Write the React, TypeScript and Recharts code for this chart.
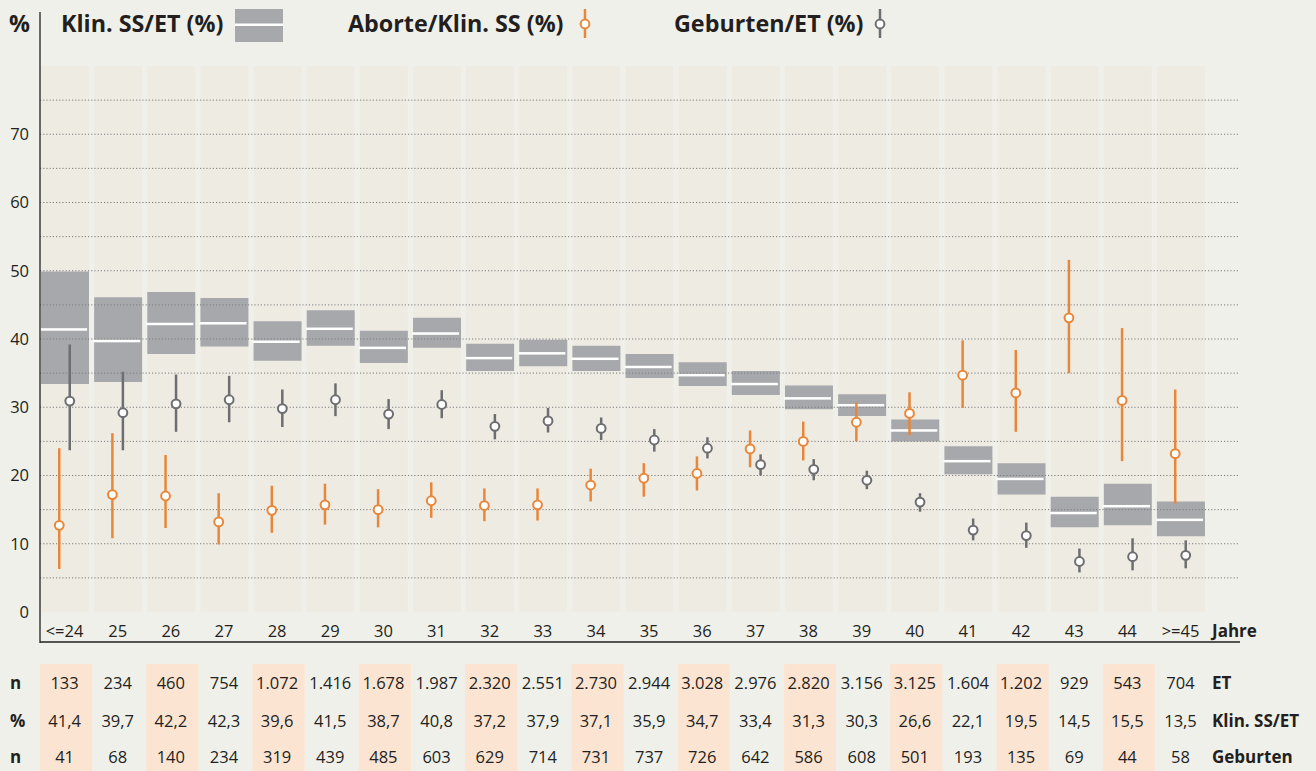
import React from 'react';
import { ComposedChart, Bar, Scatter, XAxis, YAxis, ReferenceLine } from 'recharts';

// ---- Data ----
const categories = ['<=24', '25', '26', '27', '28', '29', '30', '31', '32', '33', '34', '35', '36', '37', '38', '39', '40', '41', '42', '43', '44', '>=45'];

const klinMean = [41.4, 39.7, 42.2, 42.3, 39.6, 41.5, 38.7, 40.8, 37.2, 37.9, 37.1, 35.9, 34.7, 33.4, 31.3, 30.3, 26.6, 22.1, 19.5, 14.5, 15.5, 13.5];
const klinLow = [33.4, 33.7, 37.8, 38.9, 36.8, 39.0, 36.5, 38.7, 35.3, 36.0, 35.3, 34.3, 33.1, 31.8, 29.7, 28.7, 25.0, 20.2, 17.2, 12.4, 12.7, 11.1];
const klinHigh = [49.9, 46.1, 46.9, 46.0, 42.6, 44.2, 41.2, 43.1, 39.3, 39.9, 39.0, 37.8, 36.6, 35.3, 33.2, 31.9, 28.2, 24.3, 21.8, 16.9, 18.8, 16.2];

const abortMean = [12.7, 17.2, 17.0, 13.2, 14.9, 15.7, 15.0, 16.3, 15.6, 15.7, 18.6, 19.6, 20.3, 23.9, 25.0, 27.8, 29.1, 34.7, 32.1, 43.1, 31.0, 23.2];
const abortLow = [6.3, 10.8, 12.3, 9.9, 11.6, 12.8, 12.4, 13.8, 13.3, 13.4, 16.2, 16.9, 17.8, 21.2, 22.2, 25.0, 25.9, 29.9, 26.4, 35.0, 22.1, 15.9];
const abortHigh = [24.0, 26.2, 23.0, 17.4, 18.5, 18.8, 18.0, 19.0, 18.1, 18.1, 21.0, 21.8, 22.8, 26.6, 27.9, 30.7, 32.2, 39.8, 38.4, 51.6, 41.6, 32.6];

const birthMean = [30.9, 29.2, 30.5, 31.1, 29.8, 31.1, 29.0, 30.4, 27.2, 28.0, 26.9, 25.2, 24.0, 21.6, 20.9, 19.3, 16.1, 12.0, 11.2, 7.4, 8.1, 8.3];
const birthLow = [23.7, 23.7, 26.4, 27.8, 27.1, 28.7, 26.8, 28.4, 25.3, 26.3, 25.2, 23.5, 22.5, 20.0, 19.3, 18.0, 14.7, 10.5, 9.4, 5.8, 6.1, 6.4];
const birthHigh = [39.2, 35.2, 34.8, 34.6, 32.6, 33.5, 31.2, 32.5, 29.0, 29.9, 28.5, 26.8, 25.6, 23.1, 22.4, 20.7, 17.4, 13.7, 13.1, 9.3, 10.8, 10.5];

const nET = ['133', '234', '460', '754', '1.072', '1.416', '1.678', '1.987', '2.320', '2.551', '2.730', '2.944', '3.028', '2.976', '2.820', '3.156', '3.125', '1.604', '1.202', '929', '543', '704'];
const pctKlin = ['41,4', '39,7', '42,2', '42,3', '39,6', '41,5', '38,7', '40,8', '37,2', '37,9', '37,1', '35,9', '34,7', '33,4', '31,3', '30,3', '26,6', '22,1', '19,5', '14,5', '15,5', '13,5'];
const nBirth = ['41', '68', '140', '234', '319', '439', '485', '603', '629', '714', '731', '737', '726', '642', '586', '608', '501', '193', '135', '69', '44', '58'];

const yTicks = [0, 10, 20, 30, 40, 50, 60, 70];
const gridValues = [5, 10, 15, 20, 25, 30, 35, 40, 45, 50, 55, 60, 65, 70, 75];

const data = categories.map((cat, i) => ({
  cat,
  klinRange: [klinLow[i], klinHigh[i]],
  klinMean: klinMean[i],
  abortRange: [abortLow[i], abortHigh[i]],
  abortMean: abortMean[i],
  birthRange: [birthLow[i], birthHigh[i]],
  birthMean: birthMean[i],
}));

// ---- Styles ----
const FONT = '"Open Sans", "DejaVu Sans", sans-serif';
const ORANGE = '#E8873A';
const DARKGREY = '#6D6E71';
const BOXGREY = '#A7A8AC';
const BEIGE = '#EEEBE3';
const PAGE = '#F0F0EA';
const PEACH = '#FCE4D2';
const INK = '#231F20';

const W = 1316;
const H = 771;
const PAD = { left: -2, right: 32.9 };

// vertical layout of the table below the axis (page pixels)
const ROW_LABEL_Y = 637;
const ROW1_Y = 689;
const ROW2_Y = 726.5;
const ROW3_Y = 763;
const PEACH_TOP = 664;

const XTick = (props: any) => {
  const { x, payload, index } = props;
  const i = typeof index === 'number' ? index : payload.index;
  const txt = { fontFamily: FONT, fontSize: 16.5, fill: INK, textAnchor: 'middle' as const };
  return (
    <g>
      {i % 2 === 0 && <rect x={x - 24.5} y={PEACH_TOP} width={52} height={H - PEACH_TOP} fill={PEACH} />}
      <text x={x} y={ROW_LABEL_Y} {...txt}>{payload.value}</text>
      <text x={x} y={ROW1_Y} {...txt}>{nET[i]}</text>
      <text x={x} y={ROW2_Y} {...txt}>{pctKlin[i]}</text>
      <text x={x} y={ROW3_Y} {...txt}>{nBirth[i]}</text>
    </g>
  );
};

const MeanLine = (props: any) => {
  const { cx, cy } = props;
  if (cx == null || cy == null) return null;
  return <rect x={cx - 24.5} y={cy - 1.25} width={47} height={2.5} fill="#FFFFFF" />;
};

const OrangeDot = (props: any) => {
  const { cx, cy } = props;
  if (cx == null || cy == null) return null;
  return <circle cx={cx - 5.3} cy={cy} r={4.4} fill="#FFFFFF" stroke={ORANGE} strokeWidth={2} />;
};

const GreyDot = (props: any) => {
  const { cx, cy } = props;
  if (cx == null || cy == null) return null;
  return <circle cx={cx + 5.2} cy={cy} r={4.4} fill="#FFFFFF" stroke={DARKGREY} strokeWidth={2} />;
};

const bold = { fontFamily: FONT, fontWeight: 700, fill: INK } as const;
const LEG = 23.3;

export default function App() {
  return (
    <div style={{ position: 'absolute', left: 0, top: 0, width: W, height: H, background: PAGE, overflow: 'hidden' }}>
      <ComposedChart
        width={W}
        height={H}
        data={data}
        margin={{ top: 66, right: 76, bottom: 0, left: 0 }}
        barGap={8}
      >
        <XAxis
          xAxisId="main"
          dataKey="cat"
          type="category"
          interval={0}
          padding={PAD}
          height={159}
          tickSize={0}
          tickMargin={0}
          tickLine={false}
          axisLine={{ stroke: INK, strokeWidth: 1.5 }}
          tick={<XTick />}
        />
        <XAxis xAxisId="err" dataKey="cat" type="category" padding={PAD} hide />
        <YAxis
          type="number"
          domain={[0, 80]}
          ticks={yTicks}
          width={40}
          tickSize={0}
          tickMargin={11}
          tickLine={false}
          axisLine={false}
          tick={{ fontFamily: FONT, fontSize: 16.5, fill: INK }}
          allowDataOverflow
        />
        <Bar
          xAxisId="main"
          dataKey="klinRange"
          barSize={48}
          fill={BOXGREY}
          background={{ fill: BEIGE }}
          isAnimationActive={false}
          zIndex={300}
        />
        {gridValues.map((v) => (
          <ReferenceLine
            key={v}
            xAxisId="main"
            y={v}
            stroke="#7E7E7E"
            strokeWidth={1}
            strokeDasharray="1.2 2"
            zIndex={350}
          />
        ))}
        <Scatter xAxisId="main" dataKey="klinMean" shape={<MeanLine />} isAnimationActive={false} zIndex={360} />
        <Bar xAxisId="err" dataKey="abortRange" barSize={2.5} fill={ORANGE} isAnimationActive={false} zIndex={400} />
        <Bar xAxisId="err" dataKey="birthRange" barSize={2.5} fill={DARKGREY} isAnimationActive={false} zIndex={400} />
        <Scatter xAxisId="main" dataKey="abortMean" shape={<OrangeDot />} isAnimationActive={false} zIndex={600} />
        <Scatter xAxisId="main" dataKey="birthMean" shape={<GreyDot />} isAnimationActive={false} zIndex={600} />
      </ComposedChart>

      <svg
        width={W}
        height={H}
        style={{ position: 'absolute', left: 0, top: 0, pointerEvents: 'none' }}
      >
        {/* vertical axis line */}
        <line x1={40} y1={12} x2={40} y2={643} stroke={INK} strokeWidth={1.3} />

        {/* legend */}
        <text x={9} y={32} fontSize={LEG} {...bold}>%</text>
        <text x={61} y={32} fontSize={LEG} {...bold}>Klin. SS/ET (%)</text>
        <rect x={235} y={9} width={48} height={33} fill={BOXGREY} />
        <rect x={235} y={23.5} width={48} height={2.5} fill="#FFFFFF" />

        <text x={348} y={32} fontSize={LEG} {...bold}>Aborte/Klin. SS (%)</text>
        <line x1={585} y1={9} x2={585} y2={38} stroke={ORANGE} strokeWidth={2.5} />
        <circle cx={585} cy={24} r={4.4} fill="#FFFFFF" stroke={ORANGE} strokeWidth={2} />

        <text x={674} y={32} fontSize={LEG} {...bold}>Geburten/ET (%)</text>
        <line x1={880} y1={9} x2={880} y2={38} stroke={DARKGREY} strokeWidth={2.5} />
        <circle cx={880} cy={24} r={4.4} fill="#FFFFFF" stroke={DARKGREY} strokeWidth={2} />

        {/* axis title and table row labels */}
        <text x={1212} y={ROW_LABEL_Y} fontSize={17} {...bold}>Jahre</text>
        <text x={10} y={ROW1_Y} fontSize={17} {...bold}>n</text>
        <text x={10} y={ROW2_Y} fontSize={17} {...bold}>%</text>
        <text x={10} y={ROW3_Y} fontSize={17} {...bold}>n</text>
        <text x={1212} y={ROW1_Y} fontSize={17} {...bold}>ET</text>
        <text x={1212} y={ROW2_Y} fontSize={17} {...bold}>Klin. SS/ET</text>
        <text x={1212} y={ROW3_Y} fontSize={17} {...bold}>Geburten</text>
      </svg>
    </div>
  );
}
